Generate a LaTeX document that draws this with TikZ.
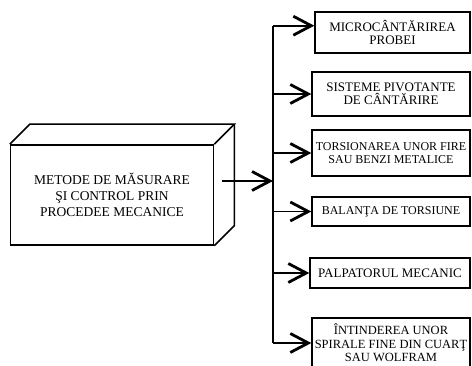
\documentclass[tikz,border=0pt]{standalone}
\usepackage{fontspec}
\setmainfont{Liberation Serif}
\usetikzlibrary{positioning,calc,arrows.meta}

\tikzset{
  mainbox/.style={draw, line width=1.5pt, minimum width=203pt, minimum height=100pt,
    align=center, inner sep=2pt, font=\fontsize{13.5}{16}\selectfont},
  sidebox/.style={draw, line width=1.4pt, minimum width=158pt, align=center,
    inner sep=1pt, font=\fontsize{13}{13.5}\selectfont},
  arr/.style={line width=1.8pt, -{Straight Barb[length=18pt,width=19pt,line width=2.8pt]}},
  bus/.style={line width=1.8pt}
}

\begin{document}
\begin{tikzpicture}[x=1pt,y=-1pt]
  \useasboundingbox (0,0) rectangle (472,366);

  % Main block (front face)
  \node[mainbox] (main) at (112,195)
    {METODE DE MĂSURARE\\ŞI CONTROL PRIN\\PROCEDEE MECANICE};

  % Top and side faces
  \draw[line width=1.5pt]
    (main.north west) -- ++(20,-20) -- ($(main.north east)+(20,-20)$)
    -- (main.north east);
  \draw[line width=1.5pt]
    ($(main.north east)+(20,-20)$) -- ($(main.south east)+(20,-20)$)
    -- (main.south east);

  % Methods on the right
  \node[sidebox, minimum width=155pt, minimum height=41pt] (b1) at (392.5,32.5)
    {MICROCÂNTĂRIREA\\PROBEI};
  \node[sidebox, minimum height=44pt] (b2) at (391,94)
    {SISTEME PIVOTANTE\\DE CÂNTĂRIRE};
  \node[sidebox, minimum height=46pt, font=\fontsize{12}{13.5}\selectfont] (b3) at (391,153)
    {TORSIONAREA UNOR FIRE\\SAU BENZI METALICE};
  \node[sidebox, minimum height=29pt, font=\fontsize{12}{13.5}\selectfont] (b4) at (391,211.5)
    {BALANŢA DE TORSIUNE};
  \node[sidebox, minimum width=160pt, minimum height=30pt] (b5) at (390,273)
    {PALPATORUL MECANIC};
  \node[sidebox, minimum height=50pt, font=\fontsize{12.5}{13.5}\selectfont] (b6) at (391,343)
    {ÎNTINDEREA UNOR\\SPIRALE FINE DIN CUARŢ\\SAU WOLFRAM};

  % Connectors
  \coordinate (side) at (222,181);
  \coordinate (bus) at (273,181);
  \coordinate (b1in) at ($(b1.north west)!0.34!(b1.south west)$);

  \draw[arr] (side) -- (bus);
  \draw[bus] (bus |- b1in) -- (bus |- b6.west);
  \draw[arr] (bus |- b1in) -- (b1in);
  \foreach \b in {b2,b3,b4,b5,b6} {
    \draw[arr] (bus |- \b.west) -- (\b.west);
  }

\end{tikzpicture}
\end{document}
